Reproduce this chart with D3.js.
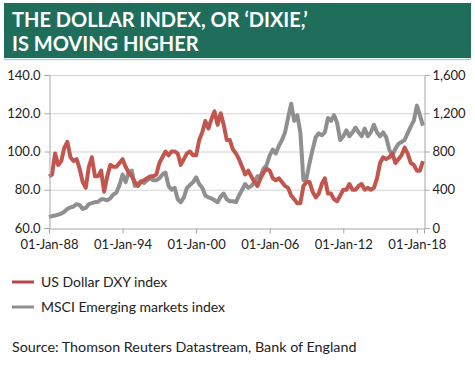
<!DOCTYPE html>
<html><head><meta charset="utf-8">
<script src="https://cdn.jsdelivr.net/npm/d3@7"></script>
<style>body{margin:0;background:#fff}svg{display:block}</style>
</head><body><svg id="c" width="475" height="369"></svg>
<script>
// Quarterly observations (Jan, Apr, Jul, Oct) from Jan 1988 to Jul 2018
const startYear = 1988;
const dxyValues = [
 87,88,99,93, 95,102,105,97, 95,96,91,84, 81,92,97,87, 87,90,79,87,
 93,92,92,94, 96,92,89,87, 84,82,84,85, 86,87,87,88, 94,97,100,98,
 100,100,99,93, 96,99,100,98, 98,106,110,116, 112,117,121,114, 120,114,106,106,
 101,99,96,92, 88,90,87,84, 82,86,89,91, 90,86,85,86, 84,82,81,77,
 75,73,73,82, 84,84,79,76, 78,83,86,78, 78,75,74,77, 80,80,83,80,
 80,82,83,80, 81,80,81,86, 94,97,96,97, 99,94,96,98, 102,99,94,93,
 90,90,95
];
const msciValues = [
 115,125,130,140, 150,170,200,215, 225,250,240,200, 210,250,260,270, 275,300,300,290,
 310,350,370,450, 560,480,580,600, 440,460,490,470, 500,520,500,500, 520,560,580,440,
 400,420,300,270, 320,420,450,480, 530,460,420,340, 320,310,290,270, 330,360,300,280,
 280,270,340,400, 460,420,440,480, 540,540,620,660, 760,820,780,860, 920,1000,1150,1300,
 1120,1180,1000,500, 520,680,820,950, 990,970,1000,1150, 1120,1180,1100,920, 960,1020,960,1000,
 1050,1000,960,1040, 960,1000,1080,1000, 960,1000,950,820, 760,830,880,900, 920,990,1060,1120,
 1280,1180,1070
];
const leftTicks = [60,80,100,120,140];
const rightTicks = [0,400,800,1200,1600];
const xTickYears = [1988,1994,2000,2006,2012,2018];
const titleLines = ["THE DOLLAR INDEX, OR \u2018DIXIE,\u2019","IS MOVING HIGHER"];
const seriesNames = ["US Dollar DXY index","MSCI Emerging markets index"];
const sourceText = "Source: Thomson Reuters Datastream, Bank of England";

const dates = dxyValues.map((_, i) => new Date(startYear, i*3, 1));
const svg = d3.select("#c");
const font = "Lato, 'Open Sans', sans-serif";

// banner
svg.append("rect").attr("x",4).attr("y",3).attr("width",467).attr("height",55).attr("fill","#1e6e5b");
svg.append("line").attr("x1",4).attr("x2",471).attr("y1",59.5).attr("y2",59.5).attr("stroke","#a8d5cb").attr("stroke-width",1.5);
svg.selectAll("text.title").data(titleLines).enter().append("text")
  .attr("x",12).attr("y",(d,i)=>27+i*24).attr("fill","#fff")
  .attr("font-family",font).attr("font-weight","bold").attr("font-size",20).text(d=>d);

const L = 49, R = 424, T = 75, B = 228;
const x = d3.scaleTime().domain([new Date(1988,0,1), new Date(2018,7,1)]).range([L,R]);
const yL = d3.scaleLinear().domain([60,140]).range([B,T]);
const yR = d3.scaleLinear().domain([0,1600]).range([B,T]);

// gridlines
svg.append("g").selectAll("line").data(leftTicks.slice(1)).enter().append("line")
  .attr("x1",L).attr("x2",R).attr("y1",d=>yL(d)+0.5).attr("y2",d=>yL(d)+0.5)
  .attr("stroke","#d4d4d4").attr("stroke-width",1);

// lines
const lineL = d3.line().x((d,i)=>x(dates[i])).y(d=>yL(d));
const lineR = d3.line().x((d,i)=>x(dates[i])).y(d=>yR(d));
svg.append("path").attr("d",lineR(msciValues)).attr("fill","none").attr("stroke","#8f8f8f").attr("stroke-width",4).attr("stroke-linejoin","round");
svg.append("path").attr("d",lineL(dxyValues)).attr("fill","none").attr("stroke","#c2564e").attr("stroke-width",4).attr("stroke-linejoin","round");

// axes
const axisColor = "#a6a6a6";
const gl = svg.append("g").attr("transform",`translate(${L+0.5},0)`)
  .call(d3.axisLeft(yL).tickValues(leftTicks).tickFormat(d3.format(".1f")).tickSize(5).tickPadding(4));
const gr = svg.append("g").attr("transform",`translate(${R+0.5},0)`)
  .call(d3.axisRight(yR).tickValues(rightTicks).tickFormat(d3.format(",")).tickSize(5).tickPadding(3));
const gb = svg.append("g").attr("transform",`translate(0,${B+0.5})`)
  .call(d3.axisBottom(x).tickValues(xTickYears.map(y=>new Date(y,0,1))).tickFormat(d3.timeFormat("%d-%b-%y")).tickSize(5).tickPadding(6));
[gl,gr,gb].forEach(g=>{
  g.selectAll("path,line").attr("stroke",axisColor);
  g.selectAll("text").attr("font-family",font).attr("font-size",13).attr("fill","#222");
});

// legend
const colors = ["#b5474a","#8f8f8f"];
const lg = svg.append("g");
seriesNames.forEach((n,i)=>{
  const yy = 282 + i*25;
  lg.append("line").attr("x1",12).attr("x2",34).attr("y1",yy).attr("y2",yy).attr("stroke",colors[i]).attr("stroke-width",3);
  lg.append("text").attr("x",41).attr("y",yy+5).attr("font-family",font).attr("font-size",14).attr("fill","#222").text(n);
});
svg.append("text").attr("x",12).attr("y",352).attr("font-family",font).attr("font-size",14.3).attr("fill","#222").text(sourceText);
</script></body></html>
